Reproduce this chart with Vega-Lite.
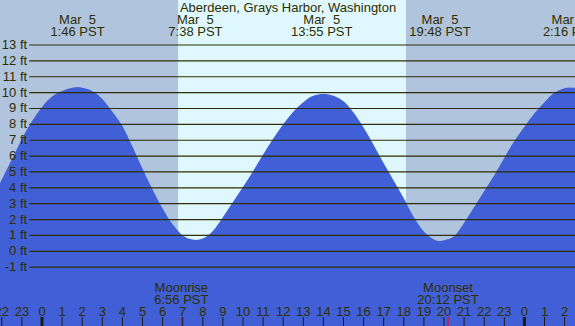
{
  "$schema": "https://vega.github.io/schema/vega-lite/v6.json",
  "width": 575,
  "height": 326,
  "autosize": {"type": "none"},
  "padding": 0,
  "background": "#B0C4DE",
  "config": {"view": {"stroke": null}, "text": {"font": "Liberation Sans", "fontSize": 13, "color": "#2e2e00"}},
  "datasets": {
    "bg": [
      {"start": -2.09, "end": 6.77, "period": "night"},
      {"start": 6.77, "end": 18.11, "period": "day"},
      {"start": 18.11, "end": 26.52, "period": "night"}
    ],
    "tide": [
      {"hour": -2.09, "ft": 4.3}, {"hour": -1.5, "ft": 5.8}, {"hour": -1.0, "ft": 7.1}, {"hour": -0.5, "ft": 8.2},
      {"hour": 0.0, "ft": 9.1}, {"hour": 0.5, "ft": 9.75}, {"hour": 1.0, "ft": 10.1}, {"hour": 1.5, "ft": 10.3},
      {"hour": 1.79, "ft": 10.35}, {"hour": 2.0, "ft": 10.3}, {"hour": 2.5, "ft": 10.1}, {"hour": 3.0, "ft": 9.6},
      {"hour": 3.5, "ft": 8.8}, {"hour": 4.0, "ft": 7.9}, {"hour": 4.5, "ft": 6.6}, {"hour": 5.0, "ft": 5.2},
      {"hour": 5.5, "ft": 3.9}, {"hour": 6.0, "ft": 2.7}, {"hour": 6.5, "ft": 1.7}, {"hour": 7.0, "ft": 1.0},
      {"hour": 7.5, "ft": 0.74}, {"hour": 7.66, "ft": 0.71}, {"hour": 8.0, "ft": 0.8}, {"hour": 8.5, "ft": 1.28},
      {"hour": 9.0, "ft": 2.15}, {"hour": 9.5, "ft": 3.1}, {"hour": 10.0, "ft": 4.05}, {"hour": 10.5, "ft": 5.05},
      {"hour": 11.0, "ft": 6.1}, {"hour": 11.5, "ft": 7.1}, {"hour": 12.0, "ft": 8.0}, {"hour": 12.5, "ft": 8.8},
      {"hour": 13.0, "ft": 9.4}, {"hour": 13.5, "ft": 9.8}, {"hour": 14.0, "ft": 9.91}, {"hour": 14.5, "ft": 9.8},
      {"hour": 15.0, "ft": 9.45}, {"hour": 15.5, "ft": 8.75}, {"hour": 16.0, "ft": 7.8}, {"hour": 16.5, "ft": 6.7},
      {"hour": 17.0, "ft": 5.55}, {"hour": 17.5, "ft": 4.45}, {"hour": 18.0, "ft": 3.35}, {"hour": 18.5, "ft": 2.15},
      {"hour": 19.0, "ft": 1.25}, {"hour": 19.5, "ft": 0.75}, {"hour": 19.8, "ft": 0.65}, {"hour": 20.0, "ft": 0.7},
      {"hour": 20.5, "ft": 0.95}, {"hour": 21.0, "ft": 1.8}, {"hour": 21.5, "ft": 2.8}, {"hour": 22.0, "ft": 3.8},
      {"hour": 22.5, "ft": 4.8}, {"hour": 23.0, "ft": 5.9}, {"hour": 23.5, "ft": 6.95}, {"hour": 24.0, "ft": 7.85},
      {"hour": 24.5, "ft": 8.7}, {"hour": 25.0, "ft": 9.4}, {"hour": 25.5, "ft": 10.0}, {"hour": 26.0, "ft": 10.28},
      {"hour": 26.27, "ft": 10.33}, {"hour": 26.52, "ft": 10.3}
    ],
    "grid": [
      {"ft": -1, "label": "-1 ft"}, {"ft": 0, "label": "0 ft"}, {"ft": 1, "label": "1 ft"}, {"ft": 2, "label": "2 ft"},
      {"ft": 3, "label": "3 ft"}, {"ft": 4, "label": "4 ft"}, {"ft": 5, "label": "5 ft"}, {"ft": 6, "label": "6 ft"},
      {"ft": 7, "label": "7 ft"}, {"ft": 8, "label": "8 ft"}, {"ft": 9, "label": "9 ft"}, {"ft": 10, "label": "10 ft"},
      {"ft": 11, "label": "11 ft"}, {"ft": 12, "label": "12 ft"}, {"ft": 13, "label": "13 ft"}
    ],
    "extremes": [
      {"hour": 1.767, "date": "Mar \u00a05", "time": "1:46 PST"},
      {"hour": 7.633, "date": "Mar \u00a05", "time": "7:38 PST"},
      {"hour": 13.917, "date": "Mar \u00a05", "time": "13:55 PST"},
      {"hour": 19.8, "date": "Mar \u00a05", "time": "19:48 PST"},
      {"hour": 26.267, "date": "Mar \u00a05", "time": "2:16 PST"}
    ],
    "title": [{"hour": 12.24, "text": "Aberdeen, Grays Harbor, Washington"}],
    "hours": [
      {"hour": -2, "label": "22", "midnight": false}, {"hour": -1, "label": "23", "midnight": false},
      {"hour": 0, "label": "0", "midnight": true}, {"hour": 1, "label": "1", "midnight": false},
      {"hour": 2, "label": "2", "midnight": false}, {"hour": 3, "label": "3", "midnight": false},
      {"hour": 4, "label": "4", "midnight": false}, {"hour": 5, "label": "5", "midnight": false},
      {"hour": 6, "label": "6", "midnight": false}, {"hour": 7, "label": "7", "midnight": false},
      {"hour": 8, "label": "8", "midnight": false}, {"hour": 9, "label": "9", "midnight": false},
      {"hour": 10, "label": "10", "midnight": false}, {"hour": 11, "label": "11", "midnight": false},
      {"hour": 12, "label": "12", "midnight": false}, {"hour": 13, "label": "13", "midnight": false},
      {"hour": 14, "label": "14", "midnight": false}, {"hour": 15, "label": "15", "midnight": false},
      {"hour": 16, "label": "16", "midnight": false}, {"hour": 17, "label": "17", "midnight": false},
      {"hour": 18, "label": "18", "midnight": false}, {"hour": 19, "label": "19", "midnight": false},
      {"hour": 20, "label": "20", "midnight": false}, {"hour": 21, "label": "21", "midnight": false},
      {"hour": 22, "label": "22", "midnight": false}, {"hour": 23, "label": "23", "midnight": false},
      {"hour": 24, "label": "0", "midnight": true}, {"hour": 25, "label": "1", "midnight": false},
      {"hour": 26, "label": "2", "midnight": false}
    ],
    "moon": [
      {"hour": 6.933, "event": "Moonrise", "time": "6:56 PST"},
      {"hour": 20.2, "event": "Moonset", "time": "20:12 PST"}
    ]
  },
  "layer": [
    {
      "data": {"name": "bg"},
      "mark": {"type": "rect"},
      "encoding": {
        "x": {"field": "start", "type": "quantitative", "scale": {"domain": [-2.0896, 26.517], "nice": false, "zero": false}, "axis": null},
        "x2": {"field": "end"},
        "y": {"datum": 15.836, "type": "quantitative", "scale": {"domain": [-4.706, 15.836], "nice": false, "zero": false}, "axis": null},
        "y2": {"datum": -4.706},
        "color": {"field": "period", "type": "nominal", "scale": {"domain": ["night", "day"], "range": ["#B0C4DE", "#DFF8FF"]}, "legend": null}
      }
    },
    {
      "data": {"name": "tide"},
      "mark": {"type": "area", "color": "#4160D7", "interpolate": "monotone"},
      "encoding": {
        "x": {"field": "hour", "type": "quantitative", "scale": {"domain": [-2.0896, 26.517], "nice": false, "zero": false}, "axis": null},
        "y": {"field": "ft", "type": "quantitative", "scale": {"domain": [-4.706, 15.836], "nice": false, "zero": false}, "axis": null},
        "y2": {"datum": -4.706}
      }
    },
    {
      "data": {"name": "grid"},
      "mark": {"type": "rule", "color": "#2e2e00", "strokeWidth": 1.2},
      "encoding": {
        "x": {"datum": -0.632, "type": "quantitative", "scale": {"domain": [-2.0896, 26.517], "nice": false, "zero": false}, "axis": null},
        "x2": {"datum": 26.52},
        "y": {"field": "ft", "type": "quantitative", "scale": {"domain": [-4.706, 15.836], "nice": false, "zero": false}, "axis": null}
      }
    },
    {
      "data": {"name": "grid"},
      "mark": {"type": "text", "align": "right", "baseline": "middle"},
      "encoding": {
        "x": {"datum": -0.74, "type": "quantitative", "scale": {"domain": [-2.0896, 26.517], "nice": false, "zero": false}, "axis": null},
        "y": {"field": "ft", "type": "quantitative", "scale": {"domain": [-4.706, 15.836], "nice": false, "zero": false}, "axis": null},
        "text": {"field": "label"}
      }
    },
    {
      "data": {"name": "title"},
      "mark": {"type": "text", "align": "center", "baseline": "alphabetic"},
      "encoding": {
        "x": {"field": "hour", "type": "quantitative", "scale": {"domain": [-2.0896, 26.517], "nice": false, "zero": false}, "axis": null},
        "y": {"datum": 15.11, "type": "quantitative", "scale": {"domain": [-4.706, 15.836], "nice": false, "zero": false}, "axis": null},
        "text": {"field": "text"}
      }
    },
    {
      "data": {"name": "extremes"},
      "mark": {"type": "text", "align": "center", "baseline": "alphabetic"},
      "encoding": {
        "x": {"field": "hour", "type": "quantitative", "scale": {"domain": [-2.0896, 26.517], "nice": false, "zero": false}, "axis": null},
        "y": {"datum": 14.323, "type": "quantitative", "scale": {"domain": [-4.706, 15.836], "nice": false, "zero": false}, "axis": null},
        "text": {"field": "date"}
      }
    },
    {
      "data": {"name": "extremes"},
      "mark": {"type": "text", "align": "center", "baseline": "alphabetic"},
      "encoding": {
        "x": {"field": "hour", "type": "quantitative", "scale": {"domain": [-2.0896, 26.517], "nice": false, "zero": false}, "axis": null},
        "y": {"datum": 13.567, "type": "quantitative", "scale": {"domain": [-4.706, 15.836], "nice": false, "zero": false}, "axis": null},
        "text": {"field": "time"}
      }
    },
    {
      "data": {"name": "moon"},
      "mark": {"type": "text", "align": "center", "baseline": "alphabetic"},
      "encoding": {
        "x": {"field": "hour", "type": "quantitative", "scale": {"domain": [-2.0896, 26.517], "nice": false, "zero": false}, "axis": null},
        "y": {"datum": -2.564, "type": "quantitative", "scale": {"domain": [-4.706, 15.836], "nice": false, "zero": false}, "axis": null},
        "text": {"field": "event"}
      }
    },
    {
      "data": {"name": "moon"},
      "mark": {"type": "text", "align": "center", "baseline": "alphabetic"},
      "encoding": {
        "x": {"field": "hour", "type": "quantitative", "scale": {"domain": [-2.0896, 26.517], "nice": false, "zero": false}, "axis": null},
        "y": {"datum": -3.289, "type": "quantitative", "scale": {"domain": [-4.706, 15.836], "nice": false, "zero": false}, "axis": null},
        "text": {"field": "time"}
      }
    },
    {
      "data": {"name": "hours"},
      "mark": {"type": "text", "align": "center", "baseline": "alphabetic"},
      "encoding": {
        "x": {"field": "hour", "type": "quantitative", "scale": {"domain": [-2.0896, 26.517], "nice": false, "zero": false}, "axis": null},
        "y": {"datum": -4.045, "type": "quantitative", "scale": {"domain": [-4.706, 15.836], "nice": false, "zero": false}, "axis": null},
        "text": {"field": "label"}
      }
    },
    {
      "data": {"name": "hours"},
      "mark": {"type": "rule", "color": "#1a1a1a"},
      "encoding": {
        "x": {"field": "hour", "type": "quantitative", "scale": {"domain": [-2.0896, 26.517], "nice": false, "zero": false}, "axis": null},
        "y": {"datum": -4.139, "type": "quantitative", "scale": {"domain": [-4.706, 15.836], "nice": false, "zero": false}, "axis": null},
        "y2": {"datum": -4.706},
        "strokeWidth": {"field": "midnight", "type": "nominal", "scale": {"domain": [false, true], "range": [1, 3]}, "legend": null}
      }
    },
    {
      "data": {"name": "moon"},
      "mark": {"type": "rule", "color": "#ff0000", "strokeWidth": 1},
      "encoding": {
        "x": {"field": "hour", "type": "quantitative", "scale": {"domain": [-2.0896, 26.517], "nice": false, "zero": false}, "axis": null},
        "y": {"datum": -4.139, "type": "quantitative", "scale": {"domain": [-4.706, 15.836], "nice": false, "zero": false}, "axis": null},
        "y2": {"datum": -4.706}
      }
    }
  ]
}
